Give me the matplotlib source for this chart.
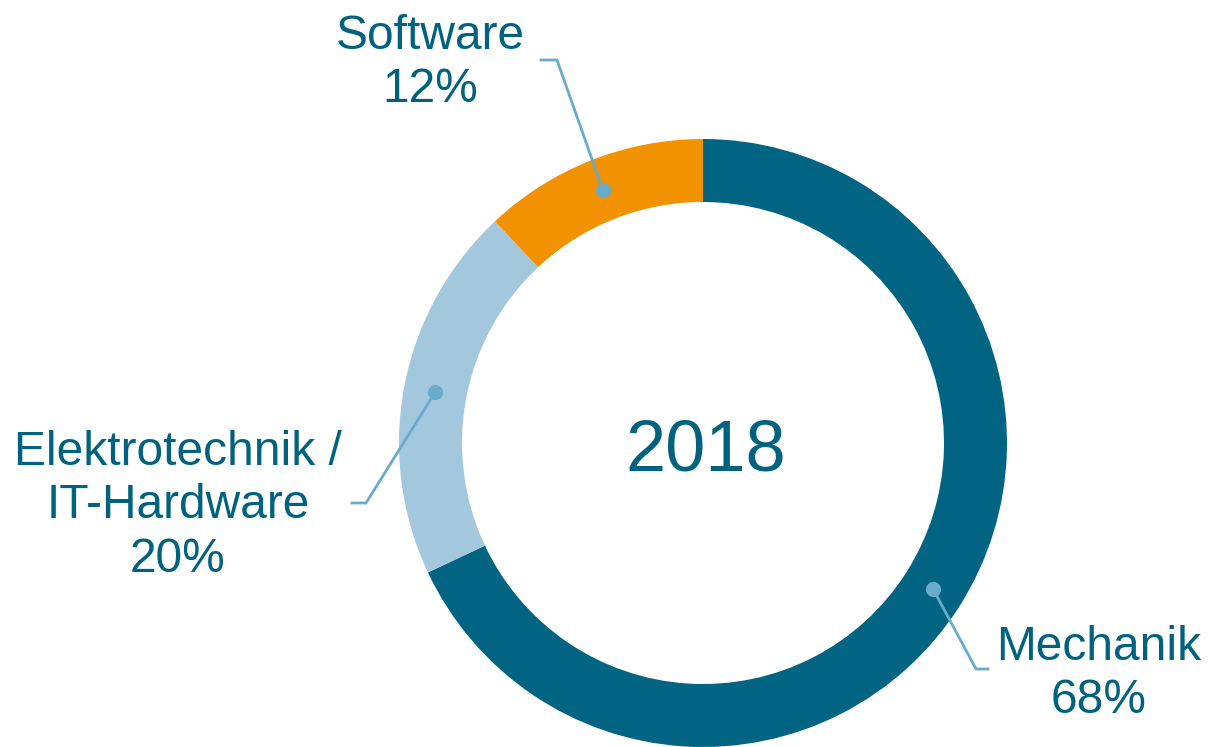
import numpy as np
import matplotlib.pyplot as plt

plt.rcParams['font.family'] = ['Liberation Sans', 'DejaVu Sans']

# DATA
categories = ['Mechanik', 'Elektrotechnik /\nIT-Hardware', 'Software']
shares = [68, 20, 12]
year_label = '2018'

# STYLE
colors = ['#006482', '#a3c8de', '#f39200']
TEXT_COLOR = '#00627f'
LEADER_COLOR = '#6aabcb'

W, H = 1209, 747
CX, CY = 703, H - 443       # donut centre (pixels)
R_OUT, RING = 304, 63

# label layout: (elbow, end of leader, text position)
layout = {
    'Mechanik': ((976, H - 669), (988, H - 669), (1099, H - 674)),
    'Elektrotechnik /\nIT-Hardware': ((366, H - 503), (352, H - 503), (178, H - 506)),
    'Software': ((557, H - 60), (541, H - 60), (430, H - 63)),
}

fig = plt.figure(figsize=(W / 100, H / 100), dpi=100)
ax = fig.add_axes([0, 0, 1, 1])

wedges, _ = ax.pie(shares, colors=colors, startangle=90, counterclock=False,
                   radius=R_OUT, center=(CX, CY),
                   wedgeprops=dict(width=RING, edgecolor='none'))
ax.set_xlim(0, W)
ax.set_ylim(0, H)
ax.set_aspect('equal')
ax.axis('off')

r_mid = R_OUT - RING / 2
for wedge, cat, val in zip(wedges, categories, shares):
    ang = np.deg2rad((wedge.theta1 + wedge.theta2) / 2)
    dx, dy = CX + r_mid * np.cos(ang), CY + r_mid * np.sin(ang)
    elbow, end, txt = layout[cat]
    ax.plot([dx, elbow[0], end[0]], [dy, elbow[1], end[1]],
            color=LEADER_COLOR, linewidth=2, solid_joinstyle='miter', zorder=3)
    ax.scatter([dx], [dy], s=120, color=LEADER_COLOR, zorder=4, linewidths=0)
    ax.text(txt[0], txt[1], f'{cat}\n{val}%', ha='center', va='center',
            multialignment='center', fontsize=34.5, color=TEXT_COLOR,
            linespacing=1.25)

ax.text(CX + 3, CY - 9, year_label, ha='center', va='center',
        fontsize=52, color=TEXT_COLOR)

plt.savefig('out.png', dpi=100)
